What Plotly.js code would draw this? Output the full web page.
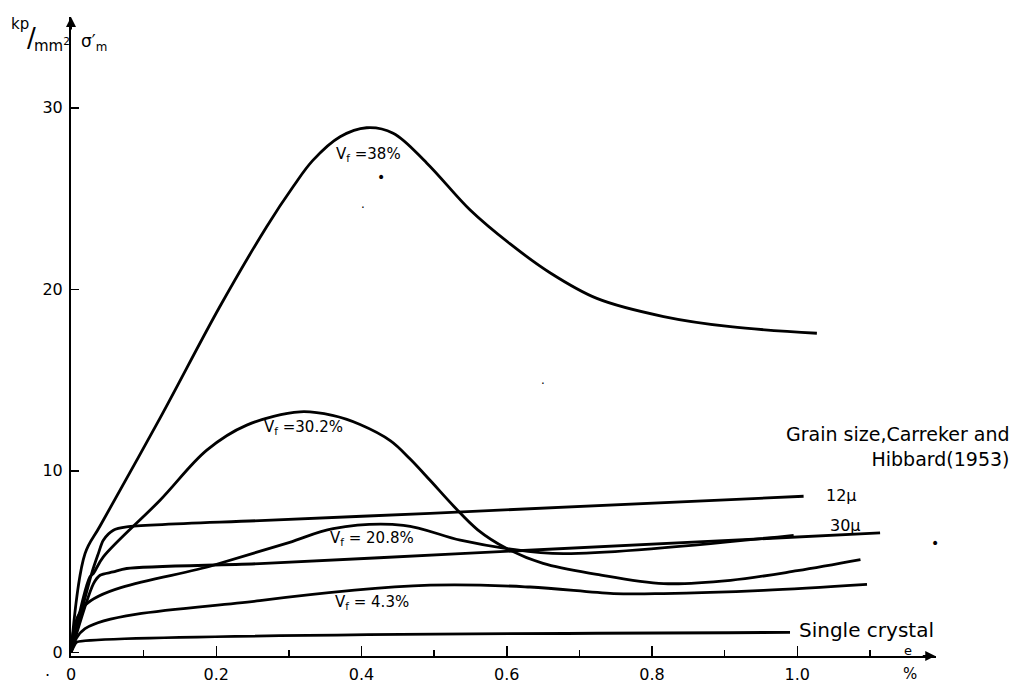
<!DOCTYPE html>
<html>
<head>
<meta charset="utf-8">
<script src="https://cdn.plot.ly/plotly-3.0.1.min.js"></script>
<style>html,body{margin:0;padding:0;background:#fff;}#chart{width:1018px;height:686px;}</style>
</head>
<body>
<div id="chart"></div>
<script>
// strain e (%) vs stress sigma'_m (kp/mm^2)
const vf38X = [0, 0.0193, 0.04, 0.1226, 0.205, 0.2696, 0.306, 0.333, 0.3705, 0.407, 0.4435, 0.49, 0.5496, 0.6047, 0.66, 0.724, 0.816, 0.908, 1.027];
const vf38Y = [0, 5.44, 6.96, 12.9, 19.05, 23.46, 25.66, 27.1, 28.4, 28.9, 28.6, 26.95, 24.37, 22.5, 20.9, 19.5, 18.5, 17.94, 17.58];

const vf302X = [0, 0.026, 0.0307, 0.0445, 0.1226, 0.187, 0.242, 0.3154, 0.36, 0.398, 0.44, 0.467, 0.495, 0.527, 0.56, 0.600, 0.65, 0.724, 0.816, 0.908, 1.0, 1.087];
const vf302Y = [0, 4.15, 4.34, 5.26, 8.38, 11.14, 12.52, 13.25, 13.05, 12.55, 11.65, 10.65, 9.45, 8.05, 6.75, 5.72, 4.9, 4.3, 3.79, 3.97, 4.5, 5.11];

const g12X = [0, 0.0284, 0.0376, 0.0445, 0.0583, 0.0767, 0.26, 0.4945, 1.0087];
const g12Y = [0, 4.34, 5.44, 6.18, 6.73, 6.91, 7.26, 7.66, 8.6];

const g30X = [0, 0.031, 0.04, 0.058, 0.0767, 0.26, 0.536, 1.114];
const g30Y = [0, 3.79, 4.25, 4.43, 4.62, 4.89, 5.44, 6.58];

const vf208X = [0, 0.0193, 0.196, 0.30, 0.361, 0.4577, 0.536, 0.600, 0.678, 0.995];
const vf208Y = [0, 2.59, 4.8, 6.05, 6.82, 7.0, 6.18, 5.72, 5.44, 6.45];

const vf43X = [0, 0.0193, 0.26, 0.4945, 0.632, 0.747, 0.816, 0.9535, 1.096];
const vf43Y = [0, 1.31, 2.85, 3.70, 3.6, 3.24, 3.24, 3.42, 3.75];

const scX = [0, 0.008, 0.99];
const scY = [0, 0.57, 1.1];

const xTickVals = [0, 0.2, 0.4, 0.6, 0.8, 1.0];
const xTickText = ['0', '0.2', '0.4', '0.6', '0.8', '1.0'];
const yTickVals = [0, 10, 20, 30];
const yTickText = ['0', '10', '20', '30'];

const FONT = 'DejaVu Sans, Liberation Sans, sans-serif';

function curve(x, y, s) {
  return {x: x, y: y, type: 'scatter', mode: 'lines',
    line: {color: '#000', width: 2.8, shape: 'spline', smoothing: s},
    hoverinfo: 'skip', cliponaxis: false};
}

const traces = [
  curve(vf38X, vf38Y, 1.0), curve(vf302X, vf302Y, 1.0), curve(g12X, g12Y, 0.8),
  curve(g30X, g30Y, 0.8), curve(vf208X, vf208Y, 1.0), curve(vf43X, vf43Y, 1.0), curve(scX, scY, 0.3)
];

function txt(x, y, text, size, opts) {
  return Object.assign({x: x, y: y, xref: 'x', yref: 'y', text: text, showarrow: false,
    xanchor: 'center', yanchor: 'middle',
    font: {family: FONT, size: size, color: '#000'}}, opts || {});
}
function ptxt(x, y, text, size, opts) {
  return Object.assign({x: x, y: y, xref: 'paper', yref: 'paper', text: text, showarrow: false,
    xanchor: 'center', yanchor: 'middle',
    font: {family: FONT, size: size, color: '#000'}}, opts || {});
}

const annotations = [
  txt(0.41, 27.4, 'V<sub>f</sub> =38%', 15),
  txt(0.32, 12.4, 'V<sub>f</sub> =30.2%', 15),
  txt(0.415, 6.29, 'V<sub>f</sub> = 20.8%', 15),
  txt(0.415, 2.76, 'V<sub>f</sub> = 4.3%', 15),
  txt(1.061, 8.66, '12µ', 16),
  txt(1.066, 7.0, '30µ', 16),
  txt(1.0, 1.25, 'Single crystal', 20, {xanchor: 'left'}),
  ptxt(1.088, 0.3286, 'Grain size,Carreker and<br>Hibbard(1953)', 19, {xanchor: 'right', align: 'right'}),
  txt(1.153, 0.12, 'e', 13),
  ptxt(0.970, -0.028, '%', 15),
  ptxt(-0.059, 0.989, 'kp', 15),
  ptxt(-0.0451, 0.967, '/', 26),
  ptxt(-0.022, 0.956, 'mm<sup>2</sup>', 15),
  txt(0.032, 33.6, 'σ′<sub>m</sub>', 17),
  // scan specks
  txt(0.427, 26.2, '•', 14),
  txt(0.402, 24.5, '·', 12),
  txt(0.65, 14.8, '·', 12),
  txt(1.19, 6.0, '•', 14),
  ptxt(-0.027, -0.031, '·', 16),
  // axis arrows
  {x: 0, y: 35, xref: 'x', yref: 'y', ax: 0, ay: 14, text: '', showarrow: true,
   arrowhead: 2, arrowsize: 1, arrowwidth: 2, arrowcolor: '#000'},
  {x: 1.19, y: -0.2, xref: 'x', yref: 'y', ax: -14, ay: 0, text: '', showarrow: true,
   arrowhead: 2, arrowsize: 1, arrowwidth: 2, arrowcolor: '#000'}
];

const layout = {
  width: 1018, height: 686,
  margin: {l: 71, r: 82, t: 17, b: 30, pad: 0},
  paper_bgcolor: '#fff', plot_bgcolor: '#fff',
  showlegend: false,
  xaxis: {
    range: [0, 1.191], showline: true, linecolor: '#000', linewidth: 2,
    ticks: 'inside', ticklen: 10, tickwidth: 1.5, tickcolor: '#000',
    tickmode: 'array', tickvals: xTickVals, ticktext: xTickText,
    showgrid: false, zeroline: false, fixedrange: true,
    tickfont: {family: FONT, size: 16, color: '#000'},
    ticklabelstandoff: 3,
    minor: {tickmode: 'linear', tick0: 0, dtick: 0.1, ticks: 'inside', ticklen: 6, tickwidth: 1.5, tickcolor: '#000', showgrid: false}
  },
  yaxis: {
    range: [-0.2, 35], showline: true, linecolor: '#000', linewidth: 2,
    ticks: 'inside', ticklen: 8, tickwidth: 1.5, tickcolor: '#000',
    tickmode: 'array', tickvals: yTickVals, ticktext: yTickText,
    showgrid: false, zeroline: false, fixedrange: true,
    tickfont: {family: FONT, size: 16, color: '#000'},
    ticklabelstandoff: 3
  },
  annotations: annotations
};

Plotly.newPlot('chart', traces, layout, {staticPlot: true, displayModeBar: false});
</script>
</body>
</html>
